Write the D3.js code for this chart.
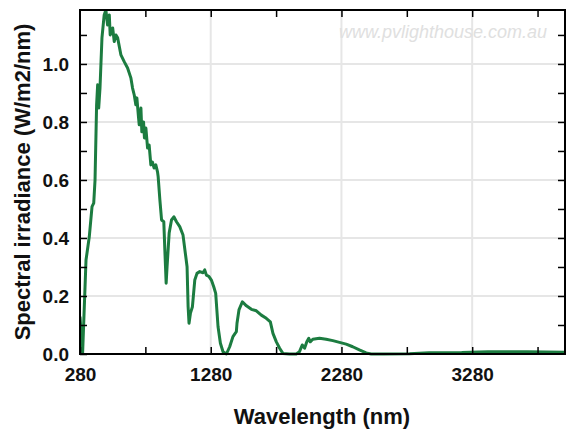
<!DOCTYPE html>
<html>
<head>
<meta charset="utf-8">
<script src="https://cdn.jsdelivr.net/npm/d3@7"></script>
<style>
  html, body { margin: 0; padding: 0; background: #fff; }
  svg { display: block; }
</style>
</head>
<body>
<svg id="chart" width="566" height="436"></svg>
<script>
// ---- data ----
const wavelength = [280, 300, 326, 351, 372, 385, 395, 407, 415, 423, 433, 448, 465, 478, 491, 504, 511, 530, 542, 555, 568, 593, 618, 644, 669, 682, 695, 707, 715, 728, 733, 746, 753, 766, 773, 784, 797, 809, 822, 834, 847, 860, 873, 878, 891, 904, 921, 929, 939, 946, 962, 980, 998, 1018, 1043, 1068, 1089, 1099, 1107, 1114, 1125, 1140, 1158, 1175, 1196, 1221, 1234, 1247, 1267, 1285, 1303, 1318, 1336, 1354, 1374, 1400, 1425, 1450, 1476, 1481, 1496, 1522, 1553, 1591, 1629, 1667, 1705, 1736, 1756, 1782, 1807, 1832, 1883, 1934, 1959, 1980, 1998, 2015, 2030, 2041, 2061, 2112, 2163, 2214, 2265, 2316, 2366, 2417, 2469, 2507, 2600, 2800, 2950, 3200, 3400, 3700, 4000];
const irradiance = [0.129, 0.003, 0.324, 0.404, 0.508, 0.52, 0.60, 0.859, 0.928, 0.848, 0.917, 1.09, 1.169, 1.186, 1.134, 1.169, 1.10, 1.124, 1.077, 1.10, 1.09, 1.031, 1.008, 0.986, 0.952, 0.917, 0.893, 0.859, 0.883, 0.814, 0.79, 0.848, 0.766, 0.80, 0.745, 0.779, 0.71, 0.72, 0.652, 0.662, 0.641, 0.652, 0.628, 0.611, 0.531, 0.462, 0.456, 0.359, 0.244, 0.301, 0.417, 0.462, 0.473, 0.456, 0.439, 0.41, 0.336, 0.301, 0.163, 0.106, 0.141, 0.163, 0.255, 0.278, 0.284, 0.28, 0.29, 0.272, 0.267, 0.255, 0.232, 0.209, 0.094, 0.037, 0.008, 0.0, 0.025, 0.06, 0.077, 0.106, 0.152, 0.18, 0.166, 0.154, 0.149, 0.134, 0.123, 0.111, 0.071, 0.042, 0.02, 0.002, 0.0, 0.0, 0.008, 0.031, 0.02, 0.042, 0.054, 0.042, 0.051, 0.054, 0.051, 0.046, 0.04, 0.034, 0.025, 0.014, 0.004, 0.0, 0.0, 0.001, 0.004, 0.005, 0.008, 0.008, 0.006];
const xTickValues = [280, 780, 1280, 1780, 2280, 2780, 3280, 3780];
const xTickLabels = ["280", "", "1280", "", "2280", "", "3280", ""];
const yTickValues = [0, 0.1, 0.2, 0.3, 0.4, 0.5, 0.6, 0.7, 0.8, 0.9, 1.0, 1.1];
const yTickLabels = ["0.0", "", "0.2", "", "0.4", "", "0.6", "", "0.8", "", "1.0", ""];
const xGrid = [1280, 2280, 3280];
const yGrid = [0.2, 0.4, 0.6, 0.8, 1.0];
const xTitle = "Wavelength (nm)";
const yTitle = "Spectral irradiance (W/m2/nm)";
const watermark = "www.pvlighthouse.com.au";

// ---- layout ----
const L = 80, R = 565, T = 10, B = 354;
const svg = d3.select("#chart");
const x = d3.scaleLinear().domain([280, 3990]).range([L, R]);
const y = d3.scaleLinear().domain([0, 1.186]).range([B, T]);
const font = "'Liberation Sans', Arial, sans-serif";

// grid
svg.append("g").selectAll("line").data(xGrid).join("line")
  .attr("x1", d => x(d)).attr("x2", d => x(d)).attr("y1", T).attr("y2", B)
  .attr("stroke", "#e6e6e6").attr("stroke-width", 2);
svg.append("g").selectAll("line").data(yGrid).join("line")
  .attr("x1", L).attr("x2", R).attr("y1", d => y(d)).attr("y2", d => y(d))
  .attr("stroke", "#e6e6e6").attr("stroke-width", 2);

// watermark
svg.append("text").attr("x", 547).attr("y", 38).attr("text-anchor", "end")
  .attr("font-family", font).attr("font-style", "italic").attr("font-size", 18)
  .attr("fill", "#e0e0e0").text(watermark);

// curve
svg.append("clipPath").attr("id", "clip").append("rect")
  .attr("x", L).attr("y", T).attr("width", R - L).attr("height", B - T + 3);
const pts = wavelength.map((w, i) => [w, irradiance[i]]);
svg.append("path").datum(pts)
  .attr("clip-path", "url(#clip)")
  .attr("fill", "none").attr("stroke", "#1c7c40").attr("stroke-width", 3)
  .attr("stroke-linejoin", "round")
  .attr("d", d3.line().x(d => x(d[0])).y(d => y(d[1])));

// axes
function styleAxis(g) {
  g.select(".domain").remove();
  g.selectAll(".tick line").attr("stroke", "#000").attr("stroke-width", 1.5);
  g.selectAll(".tick text").attr("font-family", font).attr("font-weight", "bold")
    .attr("font-size", 19).attr("fill", "#111");
}
svg.append("g").attr("transform", `translate(0,${B})`)
  .call(d3.axisBottom(x).tickValues(xTickValues).tickSize(-7).tickPadding(14)
    .tickFormat((d, i) => xTickLabels[i]))
  .call(styleAxis);
svg.append("g").attr("transform", `translate(0,${T})`)
  .call(d3.axisTop(x).tickValues(xTickValues.slice(1)).tickSize(-7).tickFormat(""))
  .call(styleAxis);
svg.append("g").attr("transform", `translate(${L},0)`)
  .call(d3.axisLeft(y).tickValues(yTickValues).tickSize(-7).tickPadding(11)
    .tickFormat((d, i) => yTickLabels[i]))
  .call(styleAxis);
svg.append("g").attr("transform", `translate(${R},0)`)
  .call(d3.axisRight(y).tickValues(yTickValues.slice(1)).tickSize(-7).tickFormat(""))
  .call(styleAxis);

// frame
svg.append("rect").attr("x", L).attr("y", T).attr("width", R - L).attr("height", B - T)
  .attr("fill", "none").attr("stroke", "#000").attr("stroke-width", 2);

// titles
svg.append("text").attr("x", 322).attr("y", 424).attr("text-anchor", "middle")
  .attr("font-family", font).attr("font-weight", "bold").attr("font-size", 22)
  .attr("fill", "#111").text(xTitle);
svg.append("text").attr("transform", "translate(30,182) rotate(-90)")
  .attr("text-anchor", "middle")
  .attr("font-family", font).attr("font-weight", "bold").attr("font-size", 22)
  .attr("fill", "#111").text(yTitle);
</script>
</body>
</html>
